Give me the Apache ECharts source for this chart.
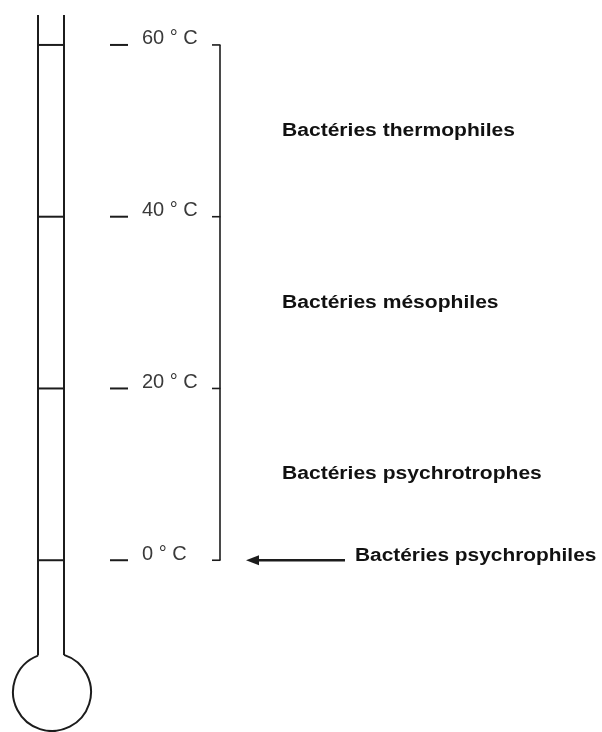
<!DOCTYPE html>
<html>
<head>
<meta charset="utf-8">
<script src="https://cdn.jsdelivr.net/npm/echarts@6/dist/echarts.min.js"></script>
<style>
html,body{margin:0;padding:0;background:#fff;}
#chart{width:602px;height:732px;}
</style>
</head>
<body>
<div id="chart"></div>
<script>
// ---- data ----
const temps = [0, 20, 40, 60];
const tickLabels = ['0 ° C', '20 ° C', '40 ° C', '60 ° C'];
const bandLow = [0, 20, 40];
const bandHigh = [20, 40, 60];
const bandNames = ['Bactéries psychrotrophes', 'Bactéries mésophiles', 'Bactéries thermophiles'];
const pointTemps = [0];
const pointNames = ['Bactéries psychrophiles'];
const thermoTopTemp = 63.5;

const INK = '#1c1c1c';
const chart = echarts.init(document.getElementById('chart'), null, {renderer: 'canvas'});

function thermoItem(params, api) {
  const top = api.coord([0, thermoTopTemp])[1];
  const cx = 52, cy = 692, r = 39;
  const xl = 38, xr = 64;
  const dyl = Math.sqrt(r * r - (xl - cx) * (xl - cx));
  const dyr = Math.sqrt(r * r - (xr - cx) * (xr - cx));
  const a1 = Math.atan2(-dyr, xr - cx);
  const a2 = Math.atan2(-dyl, xl - cx) + Math.PI * 2;
  const st = {stroke: INK, lineWidth: 2, fill: null};
  return {
    type: 'group',
    children: [
      {type: 'line', shape: {x1: xl, y1: top, x2: xl, y2: cy - dyl}, style: st},
      {type: 'line', shape: {x1: xr, y1: top, x2: xr, y2: cy - dyr}, style: st},
      {type: 'arc', shape: {cx: cx, cy: cy, r: r, startAngle: a1, endAngle: a2, clockwise: true}, style: st}
    ]
  };
}

function levelItem(params, api) {
  const t = api.value(0);
  const i = api.value(1);
  const y = api.coord([0, t])[1];
  return {
    type: 'group',
    children: [
      {type: 'line', shape: {x1: 38, y1: y, x2: 64, y2: y}, style: {stroke: INK, lineWidth: 2}},
      {type: 'line', shape: {x1: 110, y1: y, x2: 128, y2: y}, style: {stroke: INK, lineWidth: 2}},
      {type: 'line', shape: {x1: 212, y1: y, x2: 220.5, y2: y}, style: {stroke: INK, lineWidth: 1.6}},
      {type: 'text', x: 142, y: y - 6, style: {
        text: tickLabels[i], fill: '#3a3a3a', fontSize: 20, fontFamily: 'Liberation Sans, Arial, sans-serif',
        align: 'left', verticalAlign: 'middle'}}
    ]
  };
}

function bracketItem(params, api) {
  const y1 = api.coord([0, api.value(0)])[1];
  const y2 = api.coord([0, api.value(1)])[1];
  return {type: 'line', shape: {x1: 220, y1: y1, x2: 220, y2: y2}, style: {stroke: INK, lineWidth: 1.6}};
}

function bandItem(params, api) {
  const mid = (api.value(0) + api.value(1)) / 2;
  const y = api.coord([0, mid])[1];
  return {
    type: 'text', x: 282, y: y, scaleX: 1.17, scaleY: 1,
    style: {text: bandNames[api.value(2)], fill: '#111', fontSize: 18, fontWeight: 'bold',
      fontFamily: 'Liberation Sans, Arial, sans-serif', align: 'left', verticalAlign: 'middle'}
  };
}

function pointItem(params, api) {
  const y = api.coord([0, api.value(0)])[1];
  const i = api.value(1);
  return {
    type: 'group',
    children: [
      {type: 'line', shape: {x1: 256, y1: y, x2: 345, y2: y}, style: {stroke: INK, lineWidth: 2.6}},
      {type: 'polygon', shape: {points: [[246, y], [259, y - 5], [259, y + 5]]}, style: {fill: INK}},
      {type: 'text', x: 355, y: y - 4, scaleX: 1.16, style: {text: pointNames[i], fill: '#111', fontSize: 18,
        fontWeight: 'bold', fontFamily: 'Liberation Sans, Arial, sans-serif', align: 'left', verticalAlign: 'middle'}}
    ]
  };
}

const option = {
  backgroundColor: '#fff',
  animation: false,
  grid: {left: 0, right: 0, top: 2, bottom: 0},
  xAxis: {type: 'value', min: 0, max: 602, show: false},
  yAxis: {type: 'value', min: -20, max: 65, show: false},
  series: [
    {type: 'custom', renderItem: thermoItem, data: [[0]], silent: true},
    {type: 'custom', renderItem: levelItem, data: temps.map((t, i) => [t, i]), silent: true},
    {type: 'custom', renderItem: bracketItem, data: [[Math.min(...temps), Math.max(...temps)]], silent: true},
    {type: 'custom', renderItem: bandItem, data: bandLow.map((l, i) => [l, bandHigh[i], i]), silent: true},
    {type: 'custom', renderItem: pointItem, data: pointTemps.map((t, i) => [t, i]), silent: true}
  ]
};
chart.setOption(option);
</script>
</body>
</html>
